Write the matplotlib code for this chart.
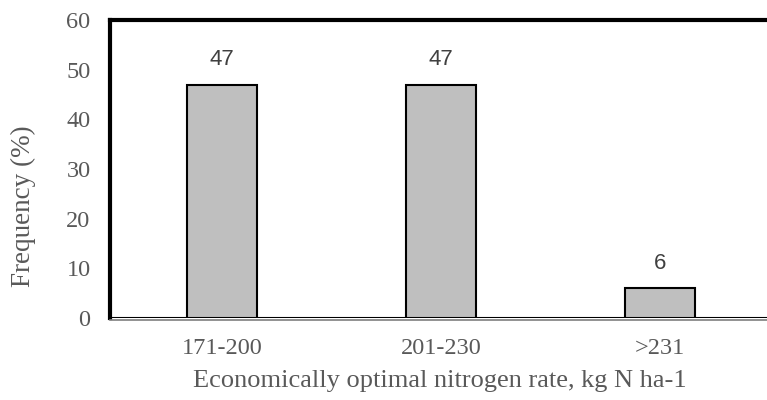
import matplotlib.pyplot as plt
import numpy as np

# ranges of economically optimal N rate and share of sites
categories = ['171-200', '201-230', '>231']
frequency = [47, 47, 6]

plt.rcParams['font.family'] = ['Liberation Serif', 'DejaVu Serif']

fig = plt.figure(figsize=(7.67, 4.0), dpi=100)
ax = fig.add_axes([0.1434, 0.205, 0.8605, 0.745])

x = np.arange(len(categories))
ax.bar(x, frequency, width=0.32, color='#bfbfbf', edgecolor='black', linewidth=1.5, zorder=3)
ax.axhline(0, color='black', linewidth=1.5, zorder=2)

for xi, v in zip(x, frequency):
    ax.text(xi, v + 2.9, str(v), ha='center', va='bottom', fontsize=16,
            color='#404040', family=['Liberation Sans', 'DejaVu Sans'])

ax.set_xlim(-0.51, 2.5)
ax.set_ylim(0, 60)
ax.set_yticks(range(0, 61, 10))
ax.set_xticks(x)
ax.set_xticklabels(categories)
ax.tick_params(axis='both', length=0, labelsize=17.5, labelcolor='#595959')
ax.tick_params(axis='x', pad=13)
ax.tick_params(axis='y', pad=14)

ax.set_xlabel('Economically optimal nitrogen rate, kg N ha-1', fontsize=19, color='#595959', labelpad=8)
ax.set_ylabel('Frequency (%)', fontsize=19.5, color='#595959')
ax.yaxis.set_label_coords(-0.112, 0.376)

for side in ['top', 'left', 'right']:
    ax.spines[side].set_linewidth(3)
    ax.spines[side].set_color('black')
ax.spines['bottom'].set_position(('outward', 1.5))
ax.spines['bottom'].set_color('#7f7f7f')
ax.spines['bottom'].set_linewidth(1.2)

fig.savefig('out.png', dpi=100)
